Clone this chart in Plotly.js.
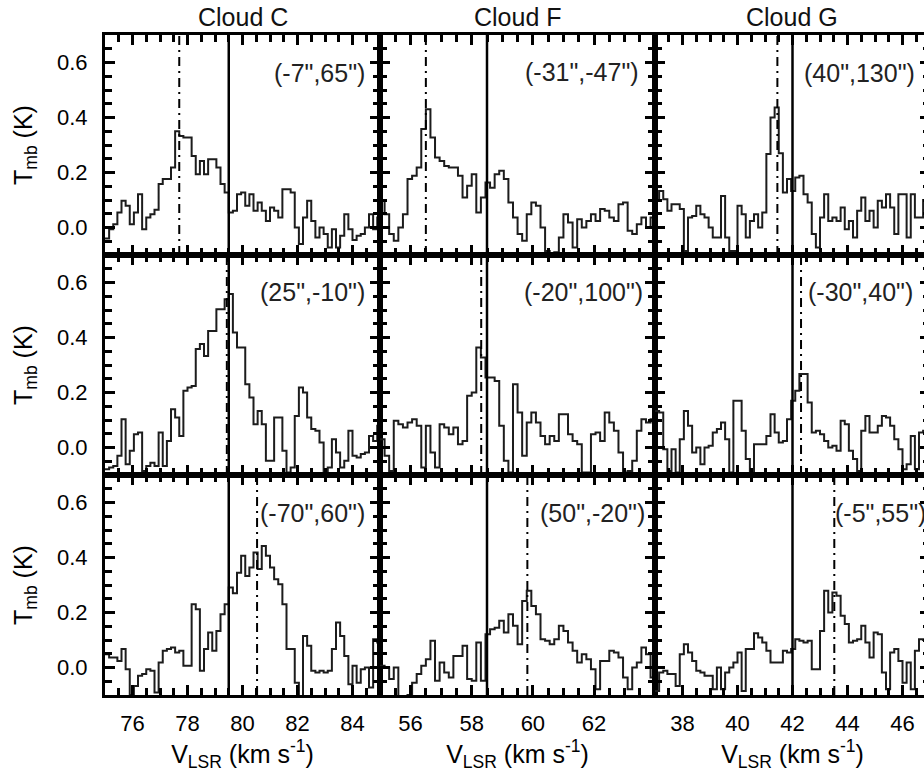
<!DOCTYPE html>
<html><head><meta charset="utf-8">
<script src="https://cdn.plot.ly/plotly-3.0.1.min.js"></script>
<style>html,body{margin:0;padding:0;overflow:hidden;background:#fff}#chart{width:930px;height:779px}</style>
</head><body><div id="chart"></div>
<script>
// ---------- data ----------
const cloudNames = ['Cloud C', 'Cloud F', 'Cloud G'];
const offsetLabels = [
  ['(-7",65")', '(-31",-47")', '(40",130")'],
  ['(25",-10")', '(-20",100")', '(-30",40")'],
  ['(-70",60")', '(50",-20")', '(-5",55")']
];
const channelWidth = 0.15;              // km/s
const firstChannel = [75.0, 55.0, 37.0];  // km/s, per cloud
const velRanges = [[75, 85], [55, 63.995], [37, 47]];
const velTickStep = 2, velMinorStep = 0.5;
const tmbRange = [-0.1, 0.7];
const tmbTickStep = 0.2, tmbMinorStep = 0.05;
const systemicVel = [79.5, 58.5, 42.0];          // solid lines
const peakVel = [[77.7, 56.5, 41.45],            // dash-dot lines
                 [79.43, 58.31, 42.31],
                 [80.53, 59.82, 43.52]];

// Tmb (K) per channel
const cloudC_1 = [-0.04,-0.006,0.012,0.055,0.097,0.079,0.012,0.055,0.121,-0.006,0.036,0.048,0.065,0.158,0.176,0.176,0.218,0.35,0.333,0.327,0.327,0.26,0.194,0.242,0.194,0.248,0.248,0.218,0.158,0.127,0.055,0.061,0.121,0.127,0.079,0.121,0.061,0.091,0.061,0.024,0.073,0.061,0.036,0.139,0.139,0.127,0.0,-0.06,0.036,0.097,0.024,-0.036,0.0,-0.024,-0.073,-0.006,-0.073,-0.03,0.048,-0.006,-0.045,-0.03,-0.024,0.0,0.048,-0.006,0.036,0.097];
const cloudC_2 = [-0.079,-0.073,-0.067,-0.03,0.103,-0.061,-0.012,0.048,0.055,-0.085,-0.067,-0.055,-0.067,0.055,-0.067,0.024,0.139,0.109,0.042,0.206,0.218,0.224,0.358,0.376,0.333,0.424,0.424,0.503,0.503,0.539,0.558,0.418,0.364,0.364,0.23,0.182,0.085,0.133,0.085,-0.048,-0.048,0.109,0.109,-0.012,-0.091,-0.073,0.115,0.218,0.2,0.109,0.067,0.061,0.018,-0.085,-0.073,0.03,-0.018,-0.073,-0.048,0.061,-0.03,-0.036,-0.024,-0.018,0.042,0.024,0.079,0.03];
const cloudC_3 = [0.048,0.036,0.036,0.024,0.067,-0.006,-0.1,-0.067,-0.03,-0.024,-0.006,-0.012,-0.091,0.018,0.061,0.067,0.073,0.055,0.061,0.006,0.006,0.23,0.212,-0.012,0.067,0.127,0.061,0.133,0.194,0.23,0.291,0.27,0.345,0.406,0.333,0.364,0.418,0.358,0.442,0.406,0.364,0.321,0.303,0.23,0.067,0.067,-0.055,-0.115,0.115,0.079,-0.012,-0.018,-0.012,-0.018,-0.012,0.067,0.164,0.115,0.042,-0.061,0.006,-0.055,-0.006,0.0,-0.073,0.103,0.091,0.061];
const cloudF_1 = [0.097,0.048,-0.024,-0.048,0.0,0.048,0.176,0.188,0.218,0.358,0.43,0.327,0.255,0.242,0.224,0.218,0.218,0.188,0.109,0.152,0.194,0.055,0.109,0.164,0.145,0.194,0.206,0.176,0.091,0.036,-0.024,-0.048,0.048,0.091,0.079,0.0,-0.085,-0.097,-0.09,-0.036,0.048,0.018,-0.073,0.03,0.0,0.024,0.048,0.024,0.067,0.061,0.036,0.024,0.085,0.091,-0.012,-0.024,0.012,0.036,0.0,0.036,0.097,0.133];
const cloudF_2 = [0.03,-0.03,-0.085,0.097,0.085,0.073,0.091,0.103,0.079,-0.073,0.079,-0.018,-0.073,0.085,0.073,0.048,0.073,0.012,0.024,0.188,0.2,0.364,0.327,0.255,0.255,0.242,0.079,-0.048,-0.091,0.23,0.127,-0.03,0.091,0.127,0.091,0.042,0.012,0.042,0.024,0.121,0.121,0.048,0.024,0.012,-0.091,-0.091,0.048,0.055,0.024,0.127,0.091,0.061,-0.018,-0.091,-0.085,-0.048,0.061,0.103,0.091,0.103,0.091,0.127];
const cloudF_3 = [0.006,0.0,-0.042,0.0,-0.115,-0.115,-0.1,-0.055,-0.024,0.006,0.03,0.097,-0.048,0.018,-0.018,-0.036,0.042,0.042,0.079,-0.042,-0.048,0.091,-0.048,0.121,0.139,0.145,0.17,0.127,0.194,0.152,0.085,0.242,0.279,0.224,0.194,0.103,0.097,0.085,0.103,0.152,0.133,0.091,0.061,0.018,0.048,0.03,-0.006,-0.079,0.024,0.024,0.061,0.055,0.036,-0.036,-0.079,0.0,0.018,0.073,0.048,-0.036,0.0,0.0];
const cloudG_1 = [0.097,0.133,0.103,0.061,0.085,0.085,0.067,-0.085,0.036,0.042,0.079,0.048,0.036,0.0,-0.036,-0.036,0.115,-0.036,-0.085,-0.085,0.079,0.048,-0.036,0.024,0.048,0.0,0.055,0.267,0.4,0.436,0.27,0.127,0.176,0.133,0.182,0.188,0.121,0.091,-0.024,-0.073,0.036,0.121,0.024,0.036,0.024,0.073,-0.006,0.024,-0.036,0.061,0.109,0.024,0.061,0.0,0.097,0.073,0.121,0.073,-0.024,0.121,0.121,-0.036,0.121,0.036,0.036,0.1,0.05];
const cloudG_2 = [0.133,0.127,-0.006,-0.085,-0.006,-0.091,0.03,0.133,0.079,-0.018,0.0,-0.061,0.0,0.006,0.055,0.067,0.091,0.03,-0.091,0.17,0.17,0.061,-0.042,-0.091,0.012,0.012,0.012,0.042,0.121,0.055,0.018,0.024,0.103,0.17,0.206,0.267,0.267,0.164,0.055,0.061,0.048,0.024,0.0,0.006,-0.012,0.097,0.085,-0.012,-0.042,-0.085,0.061,0.115,0.055,0.055,0.079,0.115,0.109,0.079,0.03,-0.006,-0.079,-0.061,0.042,-0.079,0.055,0.061,0.03];
const cloudG_3 = [-0.085,-0.018,-0.012,-0.024,-0.024,-0.067,0.048,0.085,0.055,0.024,-0.012,-0.018,-0.03,-0.03,-0.079,0.0,-0.079,-0.018,0.0,0.018,0.055,-0.085,0.067,0.067,0.125,0.109,0.091,0.061,0.018,0.018,0.018,0.061,0.055,0.067,0.103,0.097,0.091,0.097,-0.006,-0.006,0.133,0.279,0.2,0.273,0.261,0.188,0.158,0.091,0.097,0.103,0.152,0.091,0.036,0.127,0.121,-0.018,-0.079,0.055,0.067,0.024,-0.055,0.018,-0.079,0.061,0.103,0.1,0.05];

const spectra = [[cloudC_1, cloudF_1, cloudG_1],
                 [cloudC_2, cloudF_2, cloudG_2],
                 [cloudC_3, cloudF_3, cloudG_3]];

// ---------- layout geometry (pixels) ----------
const W = 930, H = 779;
const colPx = [[105, 380], [380, 655], [655, 930]];
const rowPx = [[35, 255], [255, 475], [475, 695]];
const fx = p => p / W;
const fy = p => 1 - p / H;
const FONT = 'Liberation Sans, Arial, Helvetica, sans-serif';

const traces = [], shapes = [], annotations = [];
const layout = {
  width: W, height: H, margin: {l: 0, r: 0, t: 0, b: 0},
  paper_bgcolor: '#fff', plot_bgcolor: '#fff', showlegend: false,
  font: {family: FONT, color: '#000', size: 22}
};
const axId = n => (n === 1 ? '' : String(n));

for (let r = 0; r < 3; r++) {
  for (let c = 0; c < 3; c++) {
    const k = r * 3 + c + 1;
    const xa = 'x' + axId(k), ya = 'y' + axId(k);
    const vals = spectra[r][c];
    const vel = vals.map((_, i) => firstChannel[c] + i * channelWidth);
    traces.push({
      x: vel, y: vals, xaxis: xa, yaxis: ya, type: 'scatter', mode: 'lines',
      line: {shape: 'hv', color: '#1c1c1c', width: 2}, hoverinfo: 'skip'
    });
    const xAxis = {
      domain: [fx(colPx[c][0]), fx(colPx[c][1])], anchor: ya,
      range: velRanges[c], tickmode: 'linear', tick0: 0, dtick: velTickStep,
      ticks: 'inside', ticklen: 10, tickwidth: 3, tickcolor: '#000',
      showline: true, linewidth: 3, linecolor: '#000', mirror: 'ticks',
      showgrid: false, zeroline: false, fixedrange: true,
      showticklabels: r === 2, ticklabelstandoff: 7,
      tickfont: {size: 22, family: FONT},
      minor: {tickmode: 'linear', tick0: 0, dtick: velMinorStep, ticks: 'inside', ticklen: 7, tickwidth: 3, tickcolor: '#000', showgrid: false}
    };
    if (r === 2) xAxis.title = {text: 'V<sub>LSR</sub> (km s<sup>-1</sup>)', font: {size: 25, family: FONT}, standoff: 10};
    layout['xaxis' + axId(k)] = xAxis;
    const yAxis = {
      domain: [fy(rowPx[r][1]), fy(rowPx[r][0])], anchor: xa,
      range: tmbRange, tickmode: 'linear', tick0: 0, dtick: tmbTickStep, tickformat: '.1f',
      ticks: 'inside', ticklen: 10, tickwidth: 3, tickcolor: '#000',
      showline: true, linewidth: 3, linecolor: '#000', mirror: 'ticks',
      showgrid: false, zeroline: false, fixedrange: true,
      showticklabels: c === 0, ticklabelstandoff: 10,
      tickfont: {size: 22, family: FONT},
      minor: {tickmode: 'linear', tick0: 0, dtick: tmbMinorStep, ticks: 'inside', ticklen: 7, tickwidth: 3, tickcolor: '#000', showgrid: false}
    };
    if (c === 0) yAxis.title = {text: 'T<sub>mb</sub> (K)', font: {size: 25, family: FONT}, standoff: 18};
    layout['yaxis' + axId(k)] = yAxis;
    // systemic velocity (solid) and peak velocity (dash-dot)
    shapes.push({type: 'line', xref: xa, yref: ya + ' domain', x0: systemicVel[c], x1: systemicVel[c], y0: 0, y1: 1,
                 line: {color: '#000', width: 2.5}});
    shapes.push({type: 'line', xref: xa, yref: ya + ' domain', x0: peakVel[r][c], x1: peakVel[r][c], y0: 0, y1: 1,
                 line: {color: '#000', width: 2, dash: '9px,5px,2px,5px'}});
  }
}

// position labels (pixel placement)
const labelPos = [
  [[367, 73, 'right'], [641, 72, 'right'], [917, 73, 'right']],
  [[367, 292, 'right'], [645, 292, 'right'], [915, 292, 'right']],
  [[367, 513, 'right'], [647, 513, 'right'], [833, 513, 'left']]
];
for (let r = 0; r < 3; r++) for (let c = 0; c < 3; c++) {
  const p = labelPos[r][c];
  annotations.push({xref: 'paper', yref: 'paper', x: fx(p[0]), y: fy(p[1]), xanchor: p[2], yanchor: 'middle',
    text: offsetLabels[r][c], showarrow: false, font: {size: 25, family: FONT, color: '#222'}});
}
// cloud column headers
for (let c = 0; c < 3; c++) {
  const cx = c === 2 ? 792 : (colPx[c][0] + colPx[c][1]) / 2;
  annotations.push({xref: 'paper', yref: 'paper', x: fx(cx), y: fy(17), xanchor: 'center', yanchor: 'middle',
    text: cloudNames[c], showarrow: false, font: {size: 25, family: FONT, color: '#111'}});
}
layout.shapes = shapes;
layout.annotations = annotations;

Plotly.newPlot('chart', traces, layout, {displayModeBar: false, staticPlot: true});
</script></body></html>
